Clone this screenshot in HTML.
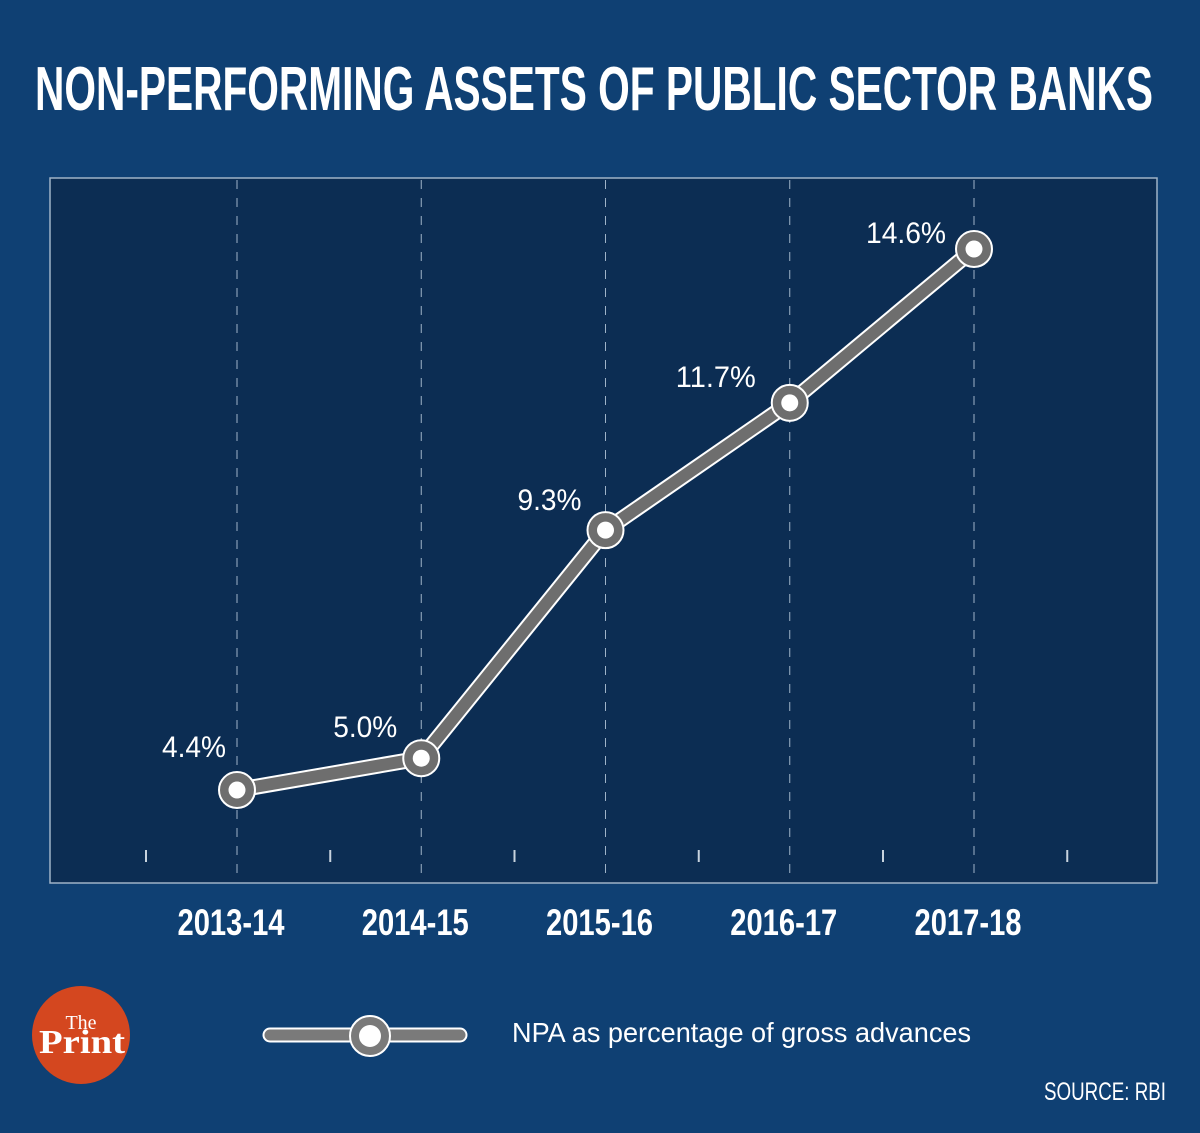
<!DOCTYPE html>
<html><head><meta charset="utf-8"><style>
html,body{margin:0;padding:0;}
body{width:1200px;height:1128px;background:#0f4073;overflow:hidden;position:relative;font-family:"Liberation Sans",sans-serif;}
</style></head><body>
<svg width="1200" height="1128" viewBox="0 0 1200 1128" xmlns="http://www.w3.org/2000/svg">
<rect x="0" y="0" width="1200" height="1128" fill="#0f4073"/>
<text x="594" y="110" text-anchor="middle" fill="#ffffff" font-family="Liberation Sans Narrow, Liberation Sans, sans-serif" font-weight="bold" font-size="62" textLength="1118" lengthAdjust="spacingAndGlyphs">NON-PERFORMING ASSETS OF PUBLIC SECTOR BANKS</text>
<rect x="50" y="178" width="1107" height="705" fill="#0c2d53" stroke="#9fb3c8" stroke-width="1.5"/>
<g id="grid"></g>
<g id="series"></g>
<g id="xlabels"></g>
<circle cx="81" cy="1035" r="49" fill="#d4471f"/>
<text x="81" y="1029" text-anchor="middle" fill="#fff" font-family="Liberation Serif, serif" font-size="20">The</text>
<text x="82" y="1053" text-anchor="middle" fill="#fff" font-family="Liberation Serif, serif" font-weight="bold" font-size="34" textLength="86" lengthAdjust="spacingAndGlyphs">Print</text>
<g>
<line x1="270" y1="1035" x2="460" y2="1035" stroke="#ffffff" stroke-width="15" stroke-linecap="round"/>
<line x1="270" y1="1035" x2="460" y2="1035" stroke="#7a7a7a" stroke-width="11" stroke-linecap="round"/>
<circle cx="370" cy="1036" r="20" fill="#7a7a7a" stroke="#fff" stroke-width="2"/>
<circle cx="370" cy="1036" r="11" fill="#fff"/>
<text x="512" y="1042" fill="#fff" font-size="28" textLength="459" lengthAdjust="spacingAndGlyphs" font-family="Liberation Sans Narrow, Liberation Sans, sans-serif">NPA as percentage of gross advances</text>
</g>
<text x="1166" y="1100" text-anchor="end" fill="#fff" font-size="25" textLength="122" lengthAdjust="spacingAndGlyphs" font-family="Liberation Sans Narrow, Liberation Sans, sans-serif">SOURCE: RBI</text>
</svg>
<script>
const categories=["2013-14","2014-15","2015-16","2016-17","2017-18"];
const npaValues=[4.4,5.0,9.3,11.7,14.6];
const valueLabels=["4.4%","5.0%","9.3%","11.7%","14.6%"];
const labelDx=[-43,-56,-56,-74,-68];
const labelDy=[-33,-21,-20,-16,-6];
const NS="http://www.w3.org/2000/svg";
function xPos(i){return 237+i*184.25;}
function yPos(v){return 1023.4-53.04*v;}
function mk(tag,attrs,parent){const e=document.createElementNS(NS,tag);for(const k in attrs)e.setAttribute(k,attrs[k]);parent.appendChild(e);return e;}
const grid=document.getElementById('grid'),series=document.getElementById('series'),xl=document.getElementById('xlabels');
for(let i=0;i<categories.length;i++){
  const g=mk('line',{x1:xPos(i),x2:xPos(i),y1:180,y2:882,stroke:'#9fb3c8','stroke-width':1,'stroke-dasharray':'9,9'},grid);
  
  
}
for(let i=0;i<=categories.length;i++){
  const t=mk('line',{x1:xPos(i)-91,x2:xPos(i)-91,y1:850,y2:862,stroke:'#c8d3de','stroke-width':2},grid);
  
  
}
const pts=npaValues.map((v,i)=>xPos(i)+','+yPos(v)).join(' ');
const o=mk('polyline',{points:pts,fill:'none',stroke:'#ffffff','stroke-width':16,'stroke-linejoin':'round'},series);


const l=mk('polyline',{points:pts,fill:'none',stroke:'#6e6e6e','stroke-width':12,'stroke-linejoin':'round'},series);


npaValues.forEach((v,i)=>{
  const c=mk('circle',{cx:xPos(i),cy:yPos(v),r:18,fill:'#6e6e6e',stroke:'#fff','stroke-width':2},series);
  
  
  mk('circle',{cx:xPos(i),cy:yPos(v),r:8.5,fill:'#fff'},series);
  const t=mk('text',{x:xPos(i)+labelDx[i],y:yPos(v)+labelDy[i],'text-anchor':'middle',fill:'#fff','font-size':30,textLength:valueLabels[i].length*16,lengthAdjust:'spacingAndGlyphs','font-family':'Liberation Sans Narrow, Liberation Sans, sans-serif'},series);
  t.textContent=valueLabels[i];
  
  
  const x=mk('text',{x:xPos(i)-6,y:935,'text-anchor':'middle',fill:'#fff','font-size':37,'font-weight':'bold',textLength:107,lengthAdjust:'spacingAndGlyphs','font-family':'Liberation Sans Narrow, Liberation Sans, sans-serif'},xl);
  x.textContent=categories[i];
  
  
});
</script>
</body></html>
